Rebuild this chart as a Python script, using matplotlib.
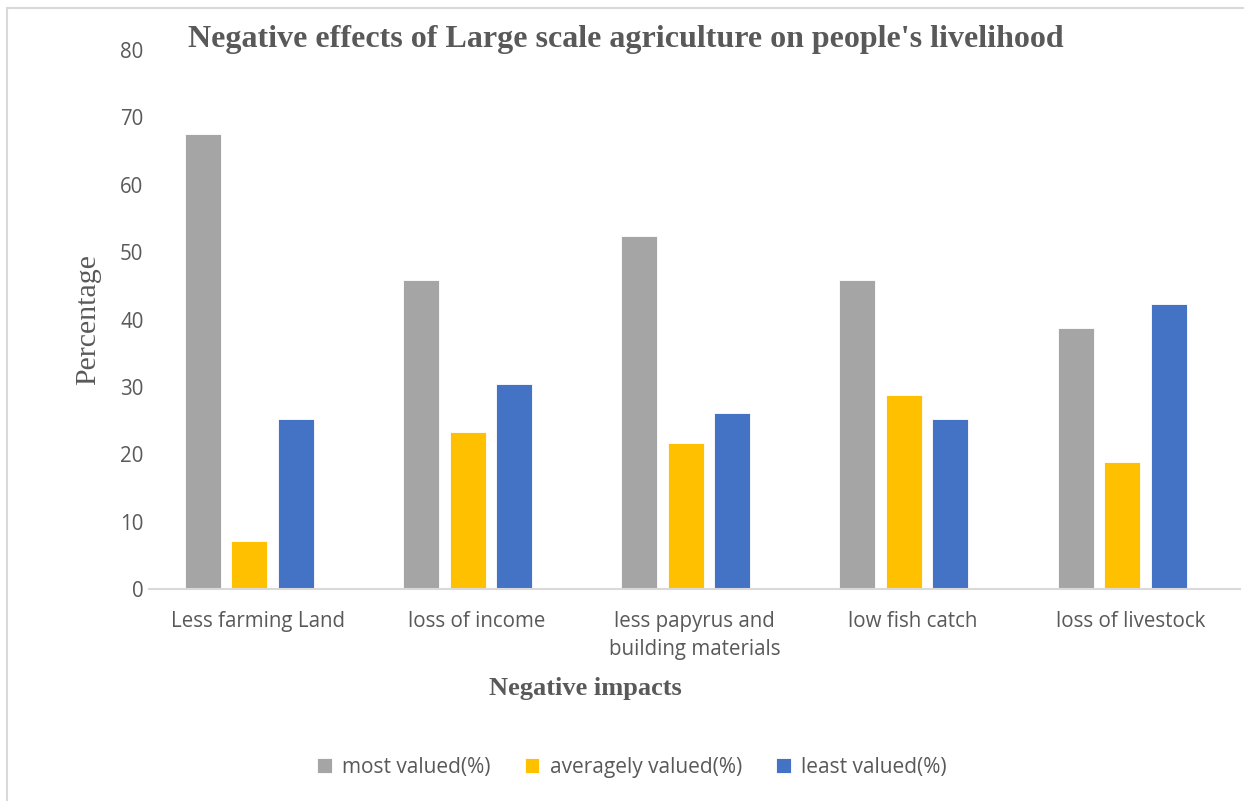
import numpy as np
import matplotlib.pyplot as plt
from matplotlib.patches import Rectangle

categories = ['Less farming Land', 'loss of income', 'less papyrus and\nbuilding materials',
              'low fish catch', 'loss of livestock']
most_valued = [67.6, 45.8, 52.4, 45.9, 38.7]
averagely_valued = [7.1, 23.3, 21.6, 28.8, 18.8]
least_valued = [25.2, 30.5, 26.1, 25.2, 42.3]
series_names = ['most valued(%)', 'averagely valued(%)', 'least valued(%)']
colors = ['#A5A5A5', '#FFC000', '#4472C4']

txt = '#595959'
serif = ['Liberation Serif', 'DejaVu Serif']
sans = ['Open Sans', 'DejaVu Sans']

fig = plt.figure(figsize=(12.44, 8.01), dpi=100)
ax = fig.add_axes([149 / 1244, 1 - 589 / 801, 1091 / 1244, 539 / 801])

x = np.arange(len(categories))
w = 0.165
step = 0.213
for i, (vals, name, c) in enumerate(zip([most_valued, averagely_valued, least_valued],
                                        series_names, colors)):
    ax.bar(x + (i - 1) * step - 0.04, vals, width=w, color=c, label=name,
           edgecolor='white', linewidth=0.6)

ax.set_xlim(-0.5, len(categories) - 0.5)
ax.set_ylim(0, 80)
ax.set_yticks(range(0, 81, 10))
ax.set_xticks(x)
ax.set_xticklabels(categories, fontsize=14.8, color=txt, family=sans, linespacing=1.45)
for lab in ax.get_yticklabels():
    lab.set_fontsize(14.8)
    lab.set_color(txt)
    lab.set_family(sans)
ax.tick_params(axis='both', length=0)
ax.tick_params(axis='x', pad=16)
ax.tick_params(axis='y', pad=4)

for s in ['top', 'right', 'left']:
    ax.spines[s].set_visible(False)
ax.spines['bottom'].set_color('#D9D9D9')
ax.spines['bottom'].set_linewidth(1.5)

ax.set_ylabel('Percentage', fontsize=21.5, color=txt, family=serif)
ax.yaxis.set_label_coords((88 - 149) / 1091, 0.5)
ax.set_xlabel('Negative impacts', fontsize=19, color=txt, family=serif, fontweight='bold')
ax.xaxis.set_label_coords((585 - 149) / 1091, -(688 - 589) / 539)
ax.xaxis.label.set_va('center')
ax.yaxis.label.set_va('center')

fig.text(626 / 1244, 1 - 40 / 801, "Negative effects of Large scale agriculture on people's livelihood",
         ha='center', va='center', fontsize=23, fontweight='bold', color=txt, family=serif)

leg = fig.legend(loc='center', bbox_to_anchor=(632 / 1244, 1 - 767 / 801), ncol=3, frameon=False,
                 handlelength=0.7, handleheight=0.7, columnspacing=1.65, handletextpad=0.5,
                 prop={'family': sans, 'size': 15})
for t in leg.get_texts():
    t.set_color(txt)

fig.patches.append(Rectangle((7 / 1244, -0.1), 1.2, 1.1 - 8 / 801, transform=fig.transFigure,
                             fill=False, edgecolor='#D9D9D9', linewidth=1.5))

fig.savefig('out.png', dpi=100)
